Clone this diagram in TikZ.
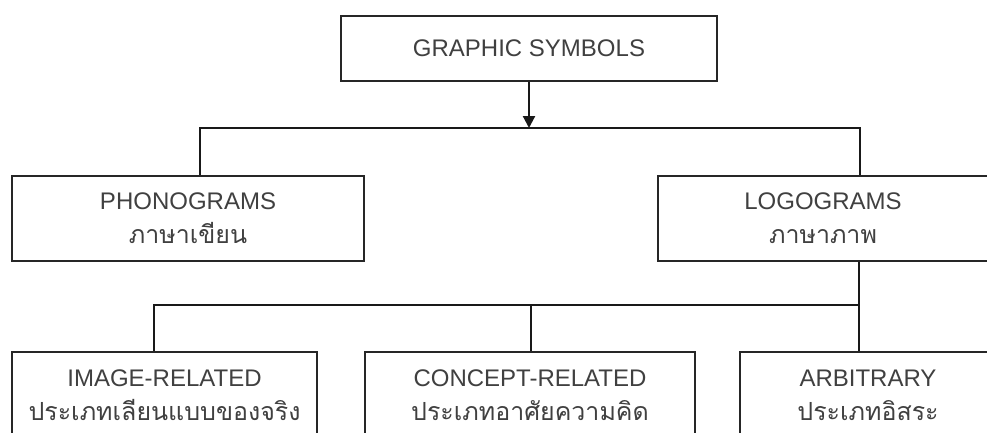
\documentclass[tikz,border=0pt]{standalone}
\usepackage{fontspec}
\setmainfont{Liberation Sans}
\newfontfamily\thaifont[Script=Thai,Scale=1.04]{Loma}
\usetikzlibrary{arrows.meta}
\begin{document}
\begin{tikzpicture}[x=1pt,y=-1pt,
  box/.style={draw=black!85, line width=2.2pt, rectangle, inner sep=0pt, align=center,
    text=black!75, font=\fontsize{24}{34}\selectfont},
  conn/.style={draw=black!90, line width=2.2pt}
]
\useasboundingbox (0,0) rectangle (987,432);
\clip (0,0) rectangle (987,432);
\fill[white] (0,0) rectangle (987,432);
\node[box, minimum width=376pt, minimum height=65pt] (top) at (529,48.5) {GRAPHIC SYMBOLS};
\node[box, minimum width=352pt, minimum height=85pt] (phon) at (188,218.5) {PHONOGRAMS\\{\thaifont ภาษาเขียน}};
\node[box, minimum width=330pt, minimum height=85pt] (logo) at (823,218.5) {LOGOGRAMS\\{\thaifont ภาษาภาพ}};
\node[box, minimum width=305pt, minimum height=86pt] (img) at (164.5,395) {IMAGE-RELATED\\{\thaifont ประเภทเลียนแบบของจริง}};
\node[box, minimum width=330pt, minimum height=86pt] (con) at (530,395) {CONCEPT-RELATED\\{\thaifont ประเภทอาศัยความคิด}};
\node[box, minimum width=256pt, minimum height=86pt] (arb) at (868,395) {ARBITRARY\\{\thaifont ประเภทอิสระ}};
\coordinate (b1l) at (200,128);
\coordinate (b1r) at (860,128);
\coordinate (b2l) at (154,305);
\coordinate (b2m) at (531,305);
\coordinate (b2r) at (859,305);
\coordinate (b1m) at (top.south |- b1l);
\draw[conn, -{Triangle[length=12pt,width=12pt]}] (top.south) -- (b1m);
\draw[conn] (phon.north -| b1l) -- (b1l) -- (b1r) -- (logo.north -| b1r);
\draw[conn] (logo.south -| b2r) -- (b2r) -- (b2l) -- (img.north -| b2l);
\draw[conn] (b2m) -- (con.north -| b2m);
\draw[conn] (b2r) -- (arb.north -| b2r);
\end{tikzpicture}
\end{document}
